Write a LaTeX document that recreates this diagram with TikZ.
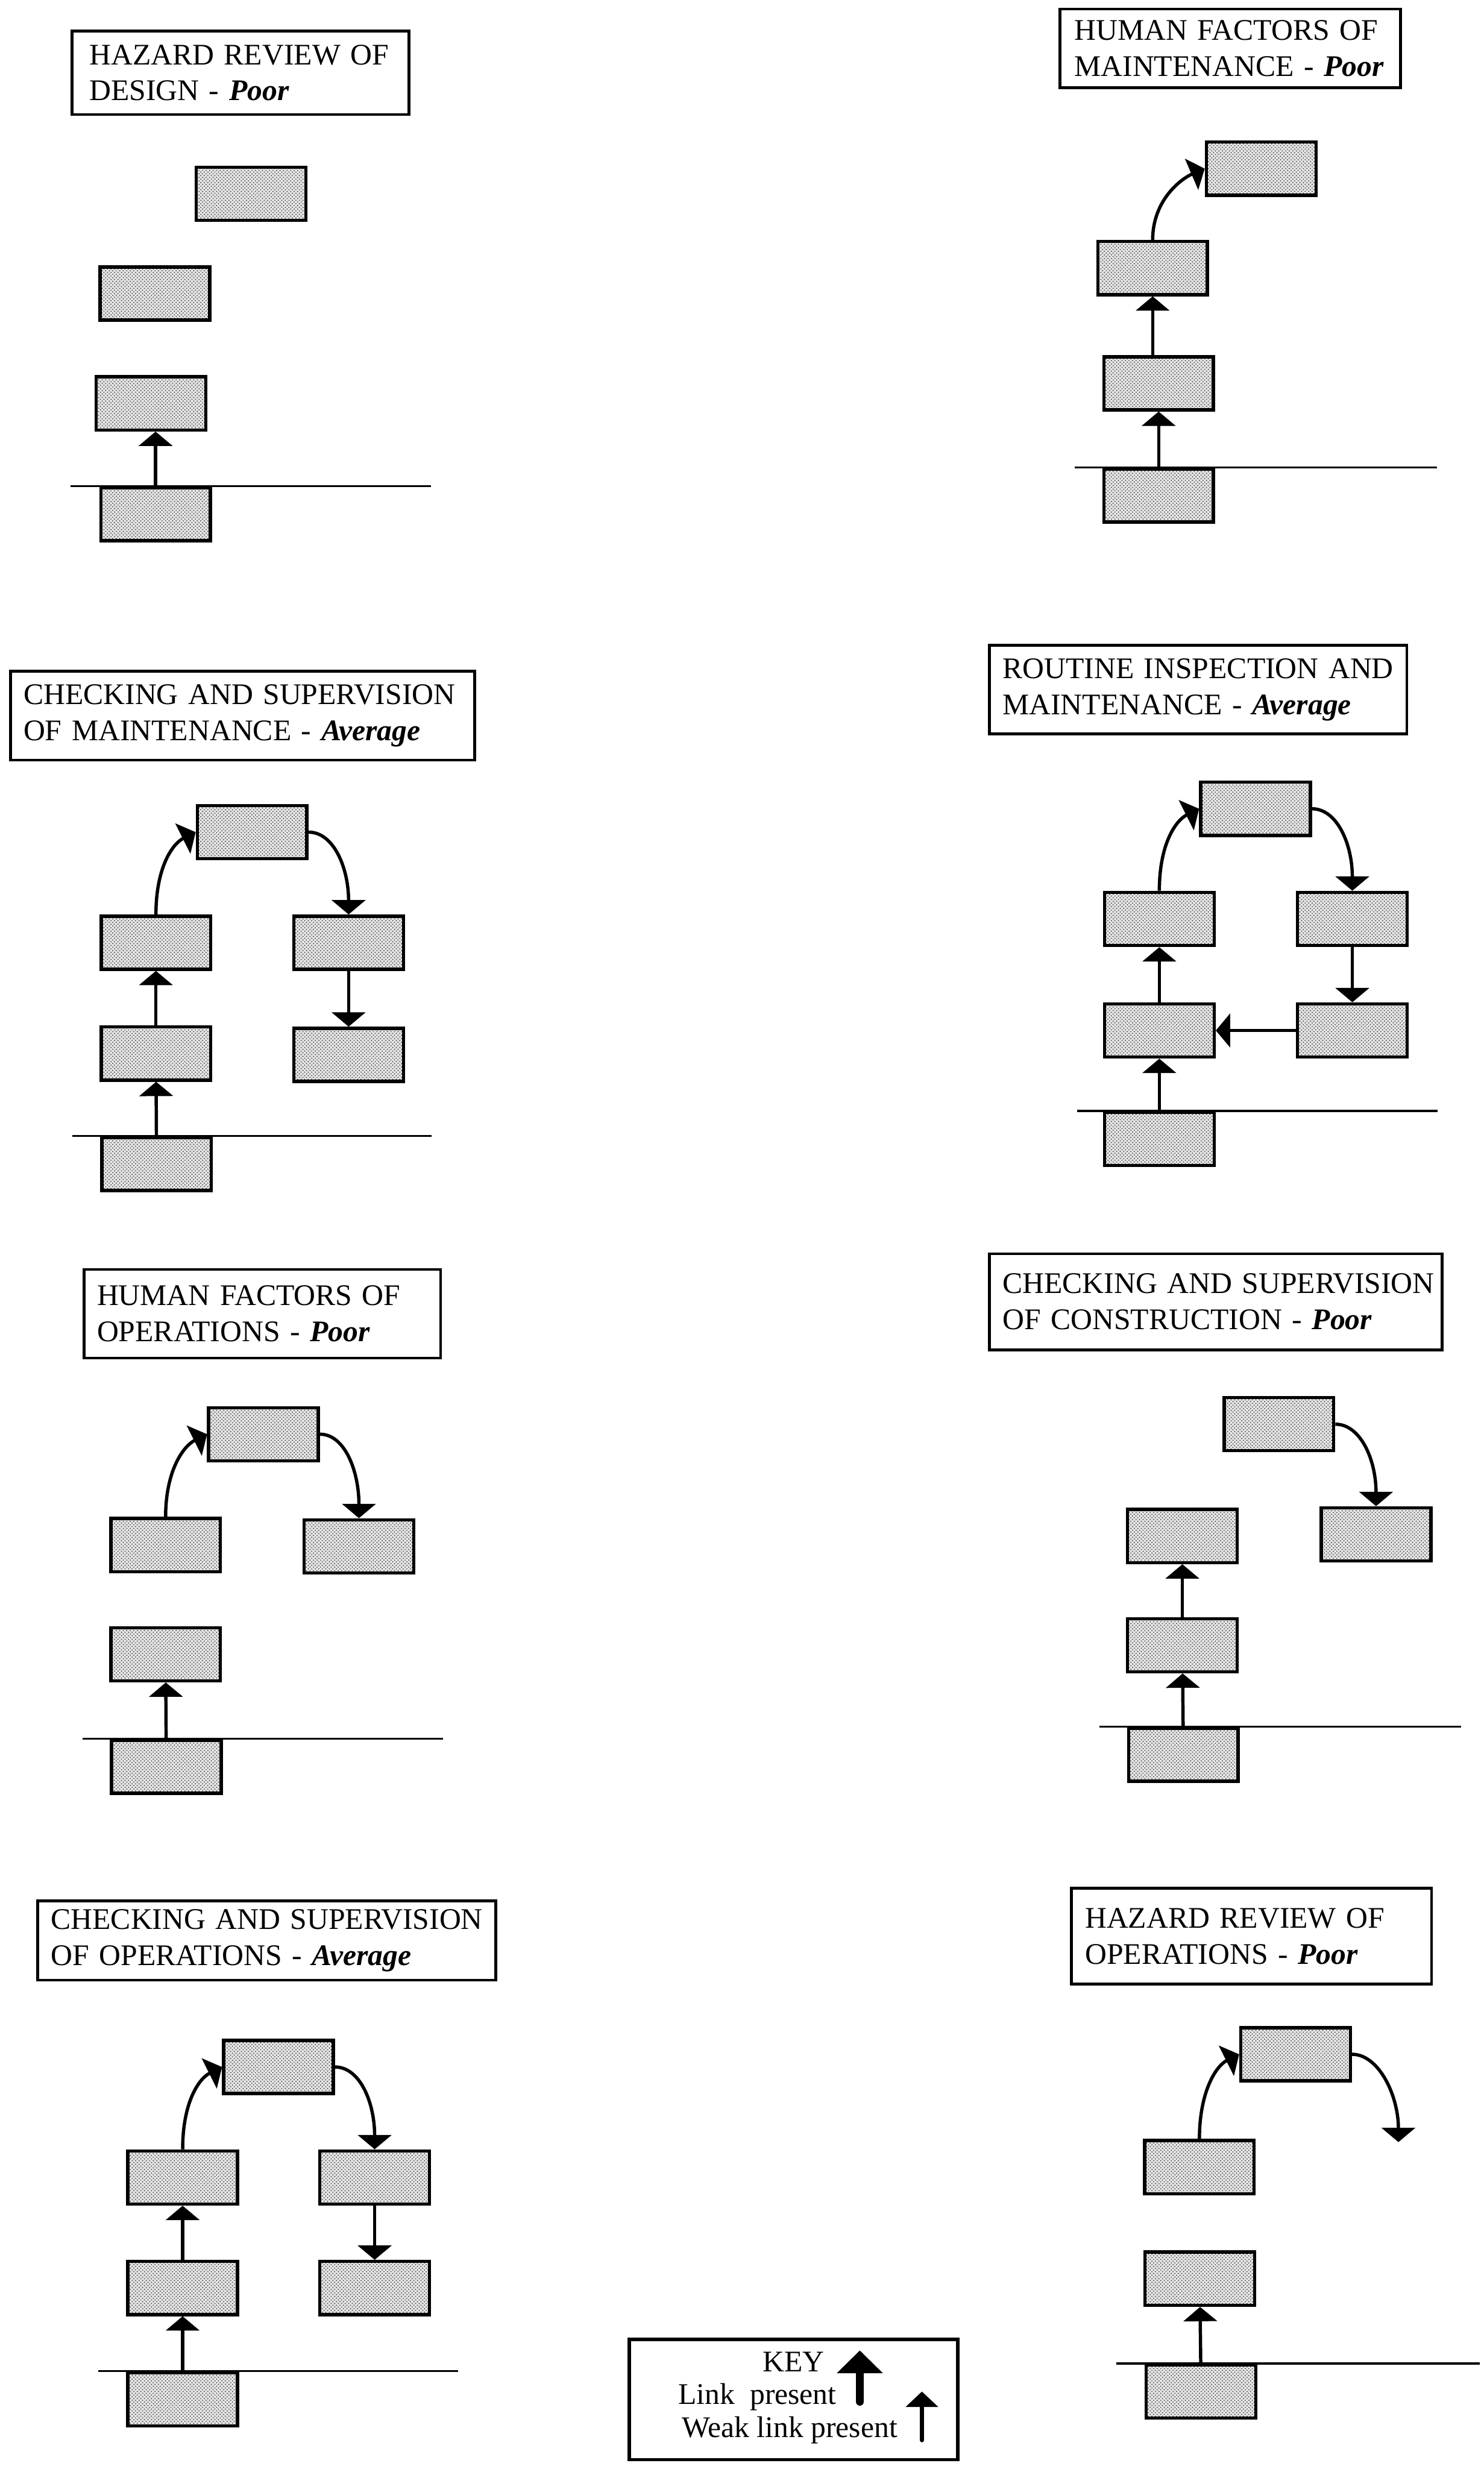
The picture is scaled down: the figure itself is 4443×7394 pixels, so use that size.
\documentclass[tikz,border=0pt]{standalone}
\usepackage{fontspec}
\setmainfont{Liberation Serif}
\usetikzlibrary{arrows.meta,patterns}

\begin{document}
\begin{tikzpicture}[x = 0.01cm, y = -0.01cm, font = \fontsize{25.5}{30.7}\selectfont]
        \tikzstyle{unit} = [shape = rectangle, draw, line width = 2.8pt, minimum width = 3.28cm, minimum height = 1.59cm, inner sep = 0pt, preaction = {fill = gray!22}, pattern = crosshatch dots, pattern color = black!80]
        \tikzstyle{title} = [shape = rectangle, draw, line width = 2.4pt, inner xsep = 0pt, inner ysep = 0pt, align = left]
        \tikzstyle{link} = [line width = 2.8pt, -{Triangle[width = 10mm, length = 4.3mm]}]
        \tikzstyle{ground} = [line width = 1.8pt]
        \useasboundingbox (0, 0) rectangle (4443, 7394);
        % hazard review of design
        \node[title, minimum width = 10.08cm, minimum height = 2.50cm, text width = 9.04cm] (A-t) at (720, 218) {\mbox{HAZARD REVIEW OF}\\\mbox{DESIGN - \textbf{\textit{Poor}}}};
        \node[unit] (A-5) at (752, 580) {};
        \node[unit] (A-4) at (464, 879) {};
        \node[unit] (A-2) at (452, 1208) {};
        \node[unit] (A-1) at (466, 1540) {};
        \draw[ground] (212, 1456) -- (1290, 1456);
        \draw[link] (A-1.north) -- (A-1.north |- A-2.south);
        % human factors of maintenance
        \node[title, minimum width = 10.19cm, minimum height = 2.35cm, text width = 9.33cm] (B-t) at (3684.5, 144.5) {\mbox{HUMAN FACTORS OF}\\\mbox{MAINTENANCE - \textbf{\textit{Poor}}}};
        \node[unit] (B-5) at (3777, 505) {};
        \node[unit] (B-4) at (3452, 803) {};
        \node[unit] (B-2) at (3470, 1148) {};
        \node[unit] (B-1) at (3470, 1484) {};
        \draw[ground] (3218, 1400) -- (4303, 1400);
        \draw[link] (B-1) -- (B-2);
        \draw[link] (B-2.north -| B-4) -- (B-4.south);
        \draw[link] (B-4.north) .. controls +(0, -120) and +(-70, 30) .. (B-5.west);
        % checking and supervision of maintenance
        \node[title, minimum width = 13.89cm, minimum height = 2.66cm, text width = 13.11cm] (C-t) at (726.5, 2143) {\mbox{CHECKING AND SUPERVISION}\\\mbox{OF MAINTENANCE - \textbf{\textit{Average}}}};
        \node[unit] (C-5) at (755, 2492) {};
        \node[unit] (C-4) at (467, 2823) {};
        \node[unit] (C-2) at (467, 3155) {};
        \node[unit] (C-1) at (469, 3486) {};
        \node[unit] (C-6) at (1044, 2823) {};
        \node[unit] (C-7) at (1044, 3159) {};
        \draw[ground] (217, 3402) -- (1293, 3402);
        \draw[link] (C-1) -- (C-2);
        \draw[link] (C-2) -- (C-4);
        \draw[link] (C-4.north) .. controls +(0, -140) and +(-70, 35) .. (C-5.west);
        \draw[link] (C-5.east) .. controls +(75, 0) and +(0, -140) .. (C-6.north);
        \draw[link] (C-6) -- (C-7);
        % routine inspection and maintenance
        \node[title, minimum width = 12.50cm, minimum height = 2.66cm, text width = 11.70cm] (D-t) at (3588, 2065) {\mbox{ROUTINE INSPECTION AND}\\\mbox{MAINTENANCE - \textbf{\textit{Average}}}};
        \node[unit] (D-5) at (3760, 2422) {};
        \node[unit] (D-4) at (3472, 2752) {};
        \node[unit] (D-2) at (3472, 3086) {};
        \node[unit] (D-1) at (3472, 3411) {};
        \node[unit] (D-6) at (4050, 2752) {};
        \node[unit] (D-7) at (4050, 3086) {};
        \draw[ground] (3225, 3327) -- (4305, 3327);
        \draw[link] (D-1) -- (D-2);
        \draw[link] (D-2) -- (D-4);
        \draw[link] (D-4.north) .. controls +(0, -140) and +(-70, 35) .. (D-5.west);
        \draw[link] (D-5.east) .. controls +(75, 0) and +(0, -140) .. (D-6.north);
        \draw[link] (D-6) -- (D-7);
        \draw[link] (D-7) -- (D-2);
        % human factors of operations
        \node[title, minimum width = 10.67cm, minimum height = 2.65cm, text width = 9.89cm] (E-t) at (785.5, 3934.5) {\mbox{HUMAN FACTORS OF}\\\mbox{OPERATIONS - \textbf{\textit{Poor}}}};
        \node[unit] (E-5) at (789, 4295) {};
        \node[unit] (E-4) at (496, 4627) {};
        \node[unit] (E-6) at (1075, 4631) {};
        \node[unit] (E-2) at (496, 4954) {};
        \node[unit] (E-1) at (498, 5291) {};
        \draw[ground] (248, 5207) -- (1327, 5207);
        \draw[link] (E-1) -- (E-2);
        \draw[link] (E-4.north) .. controls +(0, -140) and +(-70, 35) .. (E-5.west);
        \draw[link] (E-5.east) .. controls +(75, 0) and +(0, -140) .. (E-6.north);
        % checking and supervision of construction
        \node[title, minimum width = 13.55cm, minimum height = 2.87cm, text width = 12.75cm] (F-t) at (3640.5, 3898.5) {\mbox{CHECKING AND SUPERVISION}\\\mbox{OF CONSTRUCTION - \textbf{\textit{Poor}}}};
        \node[unit] (F-5) at (3830, 4265) {};
        \node[unit] (F-4) at (3541, 4600) {};
        \node[unit] (F-6) at (4121, 4595) {};
        \node[unit] (F-2) at (3541, 4927) {};
        \node[unit] (F-1) at (3544, 5255) {};
        \draw[ground] (3292, 5171) -- (4376, 5171);
        \draw[link] (F-1) -- (F-2);
        \draw[link] (F-2) -- (F-4);
        \draw[link] (F-5.east) .. controls +(75, 0) and +(0, -140) .. (F-6.north);
        % checking and supervision of operations
        \node[title, minimum width = 13.71cm, minimum height = 2.37cm, text width = 12.91cm] (G-t) at (798.5, 5811.5) {\mbox{CHECKING AND SUPERVISION}\\\mbox{OF OPERATIONS - \textbf{\textit{Average}}}};
        \node[unit] (G-5) at (834, 6190) {};
        \node[unit] (G-4) at (547, 6521) {};
        \node[unit] (G-2) at (547, 6852) {};
        \node[unit] (G-1) at (547, 7185) {};
        \node[unit] (G-6) at (1122, 6521) {};
        \node[unit] (G-7) at (1122, 6852) {};
        \draw[ground] (295, 7101) -- (1372, 7101);
        \draw[link] (G-1) -- (G-2);
        \draw[link] (G-2) -- (G-4);
        \draw[link] (G-4.north) .. controls +(0, -140) and +(-70, 35) .. (G-5.west);
        \draw[link] (G-5.east) .. controls +(75, 0) and +(0, -140) .. (G-6.north);
        \draw[link] (G-6) -- (G-7);
        % hazard review of operations
        \node[title, minimum width = 10.78cm, minimum height = 2.87cm, text width = 9.96cm] (H-t) at (3748, 5798.5) {\mbox{HAZARD REVIEW OF}\\\mbox{OPERATIONS - \textbf{\textit{Poor}}}};
        \node[unit] (H-5) at (3880, 6152) {};
        \node[unit] (H-4) at (3592, 6490) {};
        \node[unit] (H-2) at (3593, 6824) {};
        \node[unit] (H-1) at (3597, 7162) {};
        \coordinate (H-x) at (4188, 6415);
        \draw[ground] (3344, 7078) -- (4432, 7078);
        \draw[link] (H-1) -- (H-2);
        \draw[link] (H-4.north) .. controls +(0, -140) and +(-70, 35) .. (H-5.west);
        \draw[link] (H-5.east) .. controls +(80, 0) and +(0, -140) .. (H-x);
        % key
        \node[shape = rectangle, draw, line width = 2.8pt, minimum width = 9.84cm, minimum height = 3.60cm] (key) at (2376.5, 7185.5) {};
        \node[anchor = base, inner sep = 0pt] (key-0) at (2377, 7102) {KEY};
        \node[anchor = base west, inner sep = 0pt] (key-1) at (2031, 7200) {Link~~present};
        \node[anchor = base west, inner sep = 0pt] (key-2) at (2042, 7299) {Weak link present};
        \coordinate (k-1) at (2575, 7192);
        \coordinate (k-2) at (2575, 7039);
        \coordinate (k-3) at (2761, 7307);
        \coordinate (k-4) at (2761, 7162);
        \draw[line width = 7pt, line cap = round, -{Triangle[width = 13.4mm, length = 6.8mm]}] (k-1) -- (k-2);
        \draw[line width = 4pt, line cap = round, -{Triangle[width = 9.5mm, length = 4.6mm]}] (k-3) -- (k-4);
\end{tikzpicture}
\end{document}
